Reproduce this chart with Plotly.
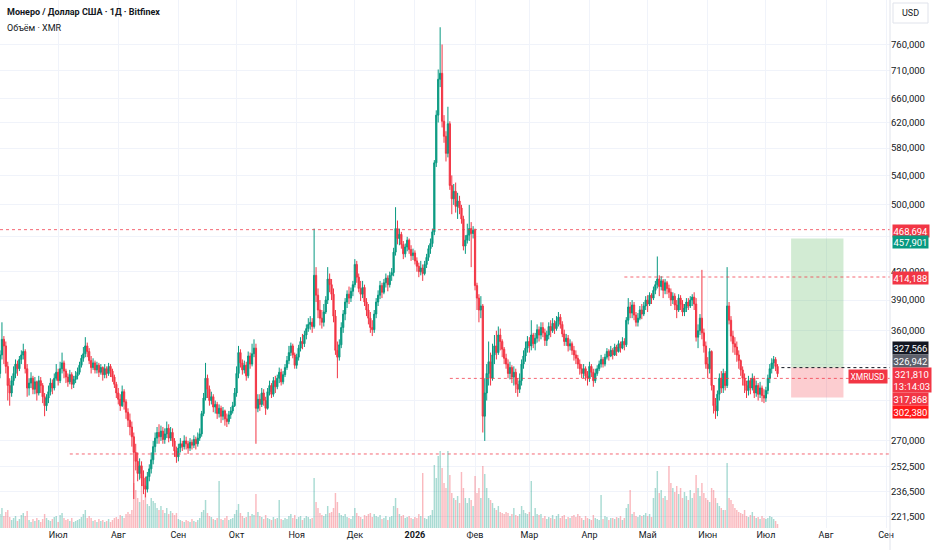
import math
import pandas as pd
import plotly.graph_objects as go

# daily XMR/USD candles, Jun 2025 - Jul 2026
first_open = 322.0
closes = [
    338, 352, 346, 328, 312, 306, 316, 322, 330, 326, 334, 338, 341, 326, 310,
    314, 318, 309, 315, 306, 316, 312, 303, 296, 302, 307, 314, 310, 318, 323, 316,
    326, 331, 324, 319, 315, 321, 313, 317, 320, 323, 329, 335, 339, 346, 341,
    333, 327, 331, 325, 329, 323, 327, 321, 326, 322, 328, 324, 319,
    313, 306, 301, 296, 307, 299, 291, 285, 280, 273, 262,
    256, 248, 253, 245, 240, 238, 246, 251, 257, 266, 272, 276, 273,
    277, 271, 275, 279, 272, 276, 270, 263, 259, 265, 268,
    266, 270, 268, 265, 269, 267, 271, 268, 272, 275, 290, 302, 318, 309, 300,
    303, 295, 297, 290, 294, 288, 292, 286, 284, 289, 292, 296, 306,
    322, 340, 331, 325, 329, 320, 337, 330, 339, 344, 294,
    301, 297, 306, 300, 294, 307, 312, 305, 316, 311, 318, 323, 315, 321,
    327, 333, 340, 346, 338, 329, 336, 344, 350, 348, 356, 362, 366, 368, 364,
    416, 395, 380, 372, 368, 378, 390, 412, 406, 396, 374, 342, 336,
    347, 363, 376, 388, 396, 392, 399, 406, 428, 414,
    402, 396, 403, 388, 380, 372, 363, 361,
    376, 388, 395, 405, 398, 408, 413, 406, 416, 419, 442, 470, 458,
    463, 451, 440, 448, 456, 445, 438, 441, 432, 426, 420, 424, 418, 428, 436, 446, 452, 466,
    558, 632, 694, 705, 622, 598, 572, 618, 526, 508, 518, 498, 505, 496,
    482, 449, 456, 462, 470, 464, 468, 405, 392, 380, 384, 288,
    306, 322, 332, 318, 338, 346, 340, 356, 350, 343, 335,
    330, 322, 327, 319, 323, 313, 309, 316,
    330, 337, 344, 350, 346, 356, 348, 353, 361, 356,
    363, 358, 351, 356, 364, 360, 367, 362, 369, 373, 366,
    357, 350, 353, 346, 348, 342, 338, 335,
    330, 326, 322, 326, 320, 318, 328, 323, 316, 322,
    326, 330, 334, 330, 336, 341, 337, 342, 338, 345, 341, 348, 344, 350, 347,
    370, 383, 377, 385, 375, 368, 372, 380, 376, 384, 390, 386, 395, 392,
    400, 406, 412, 404, 410, 400, 408, 402,
    398, 390, 394, 385, 380, 392, 386, 378, 382, 388, 384, 390,
    393, 386, 354, 360, 372, 358, 346, 330, 326, 341, 312,
    296, 292, 305, 318, 310, 322, 312, 384,
    370, 355, 348, 345, 338, 333,
    325, 318, 312, 308, 316, 310, 318, 306, 312, 305, 310, 304, 302, 308,
    318, 326, 331, 334, 328, 321.81,
]
highs = [
    342, 368, 355, 350, 332, 318, 320, 328, 334, 333, 337, 342, 348, 343, 330,
    318, 323, 320, 319, 316, 320, 319, 314, 306, 305, 312, 318, 317, 322, 330, 326,
    332, 340, 333, 326, 322, 325, 323, 320, 324, 327, 332, 338, 345, 354, 349,
    344, 337, 335, 333, 332, 331, 330, 328, 330, 328, 331, 330, 326,
    321, 315, 310, 305, 312, 309, 301, 294, 290, 284, 276,
    268, 262, 258, 256, 250, 246, 249, 254, 262, 270, 276, 280, 282,
    281, 280, 279, 284, 282, 280, 279, 272, 266, 268, 272,
    270, 274, 273, 270, 272, 271, 274, 273, 276, 279, 292, 306, 331, 321, 312,
    307, 305, 300, 299, 297, 296, 295, 293, 290, 292, 295, 299, 310,
    328, 346, 343, 334, 333, 332, 341, 340, 348, 352, 348,
    305, 305, 310, 309, 303, 310, 316, 314, 319, 320, 321, 327, 326, 324,
    330, 337, 346, 349, 348, 340, 339, 347, 354, 357, 360, 366, 372, 374, 372,
    470, 425, 402, 390, 380, 386, 394, 425, 418, 412, 402, 380, 350,
    352, 368, 380, 392, 400, 404, 403, 410, 434, 432,
    418, 410, 410, 406, 392, 386, 378, 370,
    380, 392, 400, 410, 408, 412, 418, 416, 420, 424, 447, 497, 480,
    470, 466, 455, 452, 460, 458, 450, 446, 444, 436, 430, 432, 428, 432, 440, 450, 458, 470,
    562, 640, 712, 795, 760, 632, 606, 646, 622, 540, 528, 530, 516, 512,
    500, 486, 462, 476, 500, 478, 473, 470, 408, 396, 394, 386,
    318, 330, 350, 340, 348, 356, 360, 364, 362, 352, 345,
    339, 334, 332, 329, 328, 326, 318, 322,
    334, 342, 350, 355, 354, 370, 358, 358, 366, 364,
    368, 368, 362, 360, 368, 370, 372, 370, 374, 378, 376,
    369, 361, 357, 356, 352, 350, 346, 342,
    338, 334, 330, 330, 328, 324, 332, 330, 326, 326,
    329, 333, 338, 336, 339, 344, 343, 346, 344, 348, 347, 351, 350, 354, 353,
    373, 392, 388, 390, 388, 378, 377, 384, 386, 388, 394, 395, 398, 397,
    404, 410, 437, 416, 415, 412, 412, 410,
    406, 402, 398, 397, 390, 396, 395, 390, 386, 392, 392, 394,
    396, 398, 392, 366, 376, 422, 362, 350, 336, 344, 342,
    312, 302, 308, 322, 324, 326, 324, 425,
    388, 374, 360, 354, 350, 342,
    334, 328, 322, 316, 320, 318, 322, 320, 316, 314, 315, 312, 309, 311,
    321, 330, 335, 337, 336, 330,
]
lows = [
    318, 334, 330, 322, 300, 296, 303, 312, 318, 320, 324, 330, 334, 322, 303,
    304, 310, 305, 305, 300, 304, 306, 298, 288, 292, 298, 304, 305, 308, 316, 312,
    314, 322, 318, 314, 311, 313, 309, 310, 314, 317, 321, 327, 332, 336, 336,
    330, 322, 325, 322, 322, 319, 321, 316, 318, 318, 320, 319, 315,
    310, 302, 297, 292, 295, 293, 286, 280, 274, 266, 232,
    250, 243, 244, 240, 235, 233, 236, 243, 248, 254, 262, 268, 268,
    270, 268, 268, 272, 269, 270, 266, 259, 255, 256, 262,
    263, 264, 264, 261, 263, 264, 265, 264, 266, 270, 273, 288, 300, 302, 296,
    297, 291, 290, 286, 287, 283, 285, 281, 280, 282, 286, 290, 295,
    303, 318, 327, 321, 322, 316, 318, 326, 328, 336, 268,
    291, 292, 295, 296, 289, 293, 304, 302, 303, 306, 309, 314, 312, 313,
    319, 325, 330, 337, 335, 326, 326, 333, 341, 343, 345, 352, 359, 361, 358,
    362, 388, 372, 365, 362, 364, 376, 386, 398, 390, 368, 338, 318,
    333, 344, 358, 370, 382, 386, 388, 394, 403, 408,
    398, 389, 392, 384, 374, 366, 358, 355,
    358, 372, 384, 391, 392, 396, 403, 399, 403, 410, 415, 438, 451,
    450, 446, 434, 436, 443, 440, 432, 433, 428, 420, 414, 416, 410, 416, 424, 432, 440, 448,
    462, 552, 620, 680, 612, 588, 560, 566, 520, 488, 500, 490, 482, 488,
    476, 444, 440, 452, 455, 425, 458, 400, 380, 368, 372, 276,
    270, 300, 312, 312, 316, 330, 334, 338, 342, 336, 330,
    326, 318, 317, 314, 312, 306, 303, 306,
    312, 326, 332, 340, 340, 342, 344, 342, 349, 350,
    352, 354, 346, 346, 352, 354, 358, 357, 360, 364, 362,
    354, 346, 346, 341, 342, 338, 333, 330,
    326, 321, 318, 318, 316, 312, 315, 319, 311, 314,
    320, 324, 327, 327, 328, 334, 333, 336, 334, 337, 337, 340, 340, 343, 342,
    345, 366, 372, 372, 370, 364, 364, 370, 371, 374, 380, 378, 384, 386,
    390, 396, 402, 394, 400, 392, 396, 396,
    392, 384, 386, 380, 372, 378, 380, 374, 374, 378, 380, 382,
    384, 380, 350, 344, 356, 352, 340, 326, 318, 322, 308,
    290, 286, 288, 300, 306, 306, 308, 310,
    366, 350, 340, 338, 332, 326,
    320, 312, 306, 302, 304, 305, 308, 302, 303, 300, 302, 299, 298, 299,
    305, 314, 322, 326, 324, 319,
]
volumes = [
    14, 20, 12, 16, 18, 11, 8, 10, 12, 7, 9, 13, 15, 12, 17,
    8, 6, 9, 7, 10, 8, 6, 9, 14, 10, 8, 7, 9, 11, 12, 6,
    13, 15, 10, 8, 9, 7, 10, 6, 7, 8, 9, 11, 14, 18, 10,
    12, 10, 7, 8, 6, 9, 7, 8, 6, 7, 9, 6, 8,
    10, 11, 9, 13, 12, 10, 14, 16, 14, 18, 45,
    38, 30, 26, 42, 28, 35, 24, 22, 30, 27, 25, 20, 18,
    22, 18, 15, 20, 14, 17, 15, 13, 15, 9, 8,
    7, 6, 8, 7, 6, 9, 7, 6, 8, 10, 16, 18, 28, 15, 12,
    11, 9, 8, 10, 47, 9, 8, 10, 12, 8, 9, 10, 14,
    18, 24, 15, 12, 10, 11, 16, 12, 14, 13, 34,
    16, 12, 11, 9, 13, 10, 9, 8, 11, 9, 10, 28, 9, 8,
    10, 9, 12, 14, 10, 13, 9, 11, 12, 8, 10, 12, 11, 9, 10,
    50, 26, 20, 15, 13, 12, 14, 22, 15, 16, 20, 35, 26,
    15, 13, 12, 14, 11, 10, 9, 12, 20, 15,
    12, 11, 9, 13, 12, 14, 15, 11,
    14, 12, 11, 13, 9, 10, 12, 8, 11, 12, 22, 30, 20,
    14, 12, 13, 10, 11, 12, 10, 9, 11, 10, 14, 12, 55, 10, 9, 12, 13, 18,
    63, 50, 72, 77, 60, 45, 40, 77, 53, 35, 30, 28, 32, 25,
    56, 40, 30, 25, 30, 28, 22, 52, 35, 40, 30, 62,
    54, 40, 30, 28, 25, 20, 18, 22, 16, 15, 14,
    16, 15, 12, 14, 20, 13, 12, 14,
    22, 18, 15, 14, 16, 47, 12, 20, 14, 13,
    14, 10, 12, 9, 11, 10, 13, 9, 12, 14, 10,
    12, 13, 9, 11, 10, 12, 13, 11,
    14, 12, 10, 8, 12, 10, 9, 8, 13, 10,
    9, 8, 33, 9, 12, 11, 8, 10, 10, 9, 11, 10, 12, 8, 10,
    20, 24, 38, 14, 16, 12, 11, 13, 12, 13, 15, 12, 14, 11,
    30, 40, 57, 35, 38, 30, 32, 28,
    62, 45, 40, 36, 42, 34, 40, 30, 36, 32, 28, 38,
    30, 35, 53, 40, 32, 45, 35, 30, 28, 26, 40,
    38, 30, 25, 22, 20, 18, 18, 65,
    30, 28, 24, 20, 18, 16,
    15, 14, 18, 12, 11, 13, 16, 12, 10, 11, 9, 12, 10, 9,
    10, 12, 11, 9, 7, 4,
]
last_day = "2026-07-07"

# drawn levels and the long-position tool
level_prices = [468.694, 414.188, 317.868, 260.954]
level_starts = ["2025-06-01", "2026-04-19", "2026-01-19", "2025-07-07"]
entry_price = 326.942
target_price = 457.901
stop_price = 302.380
box_start, box_end = "2026-07-14", "2026-08-10"

month_ticks = ["2025-06-01", "2025-07-01", "2025-08-01", "2025-09-01", "2025-10-01",
               "2025-11-01", "2025-12-01", "2026-01-01", "2026-02-01", "2026-03-01",
               "2026-04-01", "2026-05-01", "2026-06-01", "2026-07-01", "2026-08-01",
               "2026-09-01"]
month_labels = ["Июн", "Июл", "Авг", "Сен", "Окт", "Ноя", "Дек", "<b>2026</b>", "Фев",
                "Мар", "Апр", "Май", "Июн", "Июл", "Авг", "Сен"]
price_ticks = [221.5, 236.5, 252.5, 270, 300, 330, 360, 390, 420, 460, 500, 540,
               580, 620, 660, 710, 760]
hidden_ticks = [300, 330, 460]

UP = "#089981"
DOWN = "#f23645"
FONT = "Roboto"

dates = pd.date_range(end=last_day, periods=len(closes), freq="D")
opens = [first_open] + closes[:-1]
highs = [max(h, o, c) for h, o, c in zip(highs, opens, closes)]
lows = [min(l, o, c) for l, o, c in zip(lows, opens, closes)]
vol_colors = ["rgba(8,153,129,0.35)" if c >= o else "rgba(242,54,69,0.35)"
              for o, c in zip(opens, closes)]


def fmt(v):
    return f"{v:.3f}".replace(".", ",")


fig = go.Figure()

fig.add_trace(go.Bar(
    x=dates, y=volumes, marker_color=vol_colors, marker_line_width=0,
    yaxis="y2", hoverinfo="skip"
))

# position tool boxes
fig.add_trace(go.Scatter(
    x=[box_start, box_end, box_end, box_start, box_start],
    y=[entry_price, entry_price, target_price, target_price, entry_price],
    fill="toself", fillcolor="rgba(76,175,80,0.25)", line=dict(width=0),
    mode="lines", hoverinfo="skip"
))
fig.add_trace(go.Scatter(
    x=[box_start, box_end, box_end, box_start, box_start],
    y=[stop_price, stop_price, entry_price, entry_price, stop_price],
    fill="toself", fillcolor="rgba(242,54,69,0.25)", line=dict(width=0),
    mode="lines", hoverinfo="skip"
))

for p, start in zip(level_prices, level_starts):
    fig.add_trace(go.Scatter(
        x=[start, "2026-09-10"], y=[p, p], mode="lines",
        line=dict(color="rgba(242,54,69,0.75)", width=1, dash="3px,3px"),
        hoverinfo="skip"
    ))

fig.add_trace(go.Scatter(
    x=["2026-07-09", "2026-09-10"], y=[entry_price, entry_price], mode="lines",
    line=dict(color="#131722", width=1, dash="3px,3px"), hoverinfo="skip"
))

fig.add_trace(go.Candlestick(
    x=dates, open=opens, high=highs, low=lows, close=closes,
    increasing=dict(line=dict(color=UP, width=1), fillcolor=UP),
    decreasing=dict(line=dict(color=DOWN, width=1), fillcolor=DOWN),
))

# price scale labels (pixel row, text, colour)
H = 528
tags = [
    (231, fmt(468.694), DOWN),
    (242, fmt(target_price), UP),
    (278, fmt(414.188), DOWN),
    (348, fmt(327.566), "#131722"),
    (361, fmt(entry_price), "#5d606b"),
    (380, fmt(closes[-1]) + "<br>13:14:03", DOWN),
    (399, fmt(317.868), DOWN),
    (412, fmt(stop_price), "#ff1a1a"),
]
annotations = []
for ypx, txt, col in tags:
    annotations.append(dict(
        xref="paper", yref="paper", x=1.0, y=1 - ypx / H, xanchor="left",
        yanchor="middle", xshift=2, text=txt, showarrow=False, bgcolor=col,
        font=dict(color="white", size=9.5, family=FONT), borderpad=0.5
    ))
annotations.append(dict(
    xref="paper", yref="paper", x=888 / 890, y=1 - 376 / H, xanchor="right",
    yanchor="middle", text="XMRUSD", showarrow=False, bgcolor=DOWN,
    font=dict(color="white", size=8.5, family=FONT), borderpad=1.5
))
annotations.append(dict(
    xref="paper", yref="paper", x=5 / 890, y=1 - 12 / H, xanchor="left",
    yanchor="middle", showarrow=False,
    text="<b>Монеро / Доллар США · 1Д · Bitfinex</b>",
    font=dict(color="#131722", size=9, family=FONT)
))
annotations.append(dict(
    xref="paper", yref="paper", x=5 / 890, y=1 - 28 / H, xanchor="left",
    yanchor="middle", showarrow=False, text="Объём · XMR",
    font=dict(color="#131722", size=9, family=FONT)
))
annotations.append(dict(
    xref="paper", yref="paper", x=910.5 / 890, y=1 - 13 / H, xanchor="center",
    yanchor="middle", showarrow=False, text="USD",
    font=dict(color="#131722", size=9, family=FONT)
))

shapes = [
    dict(type="line", xref="paper", yref="paper", x0=1, x1=1, y0=-22 / H, y1=1,
         line=dict(color="#e0e3eb", width=1)),
    dict(type="rect", xref="paper", yref="paper", x0=893 / 890, x1=928 / 890,
         y0=1 - 23 / H, y1=1 - 3 / H, line=dict(color="#e0e3eb", width=1),
         fillcolor="white"),
]

fig.update_layout(
    width=932, height=550,
    margin=dict(l=0, r=42, t=0, b=22, autoexpand=False),
    paper_bgcolor="white", plot_bgcolor="white",
    showlegend=False, bargap=0.25, boxgap=0.1,
    font=dict(family=FONT, color="#131722", size=9),
    annotations=annotations, shapes=shapes,
    xaxis=dict(
        type="date", range=["2025-06-01", "2026-09-03"], automargin=False,
        tickvals=month_ticks, ticktext=month_labels,
        showgrid=True, gridcolor="#f0f3fa", zeroline=False, showline=False,
        ticks="", rangeslider=dict(visible=False),
        tickfont=dict(size=9, color="#131722", family=FONT),
    ),
    yaxis=dict(
        type="log", side="right", automargin=False,
        range=[math.log10(215.1), math.log10(853.6)],
        tickvals=price_ticks,
        ticktext=["" if v in hidden_ticks else fmt(v) for v in price_ticks],
        showgrid=True, gridcolor="#f0f3fa", zeroline=False, showline=False,
        ticks="", tickfont=dict(size=9.5, color="#131722", family=FONT),
    ),
    yaxis2=dict(overlaying="y", range=[0, H], visible=False),
)

# page has a default 8px body margin; drop it so the chart fills the window
fig.write_html("out.html", config={"displayModeBar": False},
               post_script="document.body.style.margin = '0';")
